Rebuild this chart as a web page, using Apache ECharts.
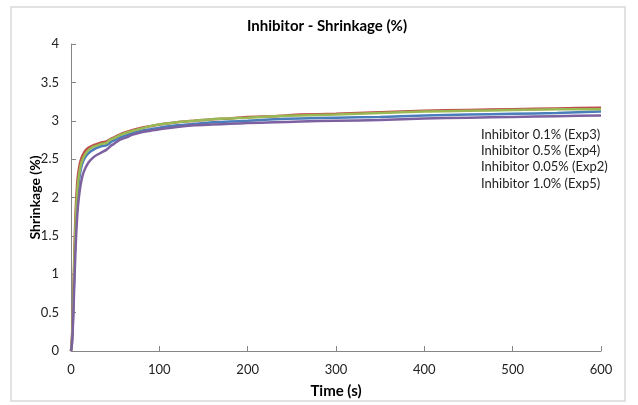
<!DOCTYPE html>
<html><head><meta charset="utf-8">
<script src="https://cdn.jsdelivr.net/npm/echarts@6/dist/echarts.min.js"></script>
<style>html,body{margin:0;padding:0;background:#fff}#c{width:638px;height:405px}</style>
</head><body><div id="c"></div>
<script>
const times = [0,1,2,3,4,5,6,7,8,10,12,14,17,20,25,30,35,40,43,46,50,55,62,70,80,90,100,120,140,160,180,200,230,260,300,350,400,450,500,550,600];
const seriesNames = ["Inhibitor 0.1% (Exp3)","Inhibitor 0.5% (Exp4)","Inhibitor 0.05% (Exp2)","Inhibitor 1.0% (Exp5)"];
const exp3 = [0,0.1,0.35,0.75,1.15,1.5,1.78,1.98,2.12,2.3,2.41,2.48,2.54,2.58,2.62,2.65,2.67,2.68,2.70,2.73,2.75,2.78,2.81,2.84,2.87,2.89,2.91,2.94,2.96,2.98,2.99,3.00,3.02,3.03,3.04,3.05,3.07,3.08,3.09,3.10,3.12];
const exp4 = [0,0.15,0.45,0.9,1.35,1.75,2.0,2.18,2.3,2.44,2.52,2.57,2.62,2.65,2.68,2.70,2.72,2.73,2.75,2.77,2.79,2.82,2.85,2.88,2.91,2.93,2.95,2.98,3.00,3.02,3.03,3.05,3.06,3.08,3.09,3.11,3.13,3.14,3.15,3.16,3.17];
const exp2 = [0,0.12,0.4,0.82,1.25,1.62,1.88,2.07,2.2,2.36,2.46,2.52,2.58,2.62,2.66,2.68,2.70,2.71,2.74,2.76,2.78,2.81,2.84,2.87,2.90,2.93,2.95,2.98,3.00,3.02,3.03,3.04,3.06,3.07,3.08,3.10,3.12,3.13,3.14,3.15,3.15];
const exp5 = [0,0.08,0.28,0.6,0.95,1.28,1.55,1.75,1.9,2.1,2.23,2.32,2.40,2.46,2.52,2.56,2.59,2.62,2.65,2.68,2.71,2.75,2.78,2.82,2.85,2.87,2.89,2.92,2.94,2.95,2.96,2.97,2.98,2.99,3.00,3.01,3.03,3.04,3.05,3.06,3.07];
const allValues = [exp3, exp4, exp2, exp5];
const colors = ["#4A7EBB","#BE4B48","#98B954","#7D60A0"];

const font = "Lato, 'Open Sans', sans-serif";
const chart = echarts.init(document.getElementById('c'));
chart.setOption({
  animation:false,
  backgroundColor:'#fff',
  title:{text:'Inhibitor - Shrinkage (%)',left:322,top:14,textAlign:'center',
    textStyle:{fontFamily:font,fontSize:15,fontWeight:'bold',color:'#000'}},
  graphic:[{type:'rect',shape:{x:11,y:7,width:614,height:394},style:{fill:'none',stroke:'#d9d9d9',lineWidth:1.5},silent:true}],
  legend:{orient:'vertical',left:476,top:123,itemWidth:0,itemHeight:12,itemGap:3.3,icon:'none',
    data:seriesNames,textStyle:{fontFamily:font,fontSize:13,color:'#222',padding:[0,0,0,-5]}},
  grid:{left:71,right:37,top:44,bottom:54},
  xAxis:{type:'value',min:0,max:600,interval:100,name:'Time (s)',nameLocation:'middle',nameGap:33,nameMoveOverlap:false,
    nameTextStyle:{fontFamily:font,fontSize:15,fontWeight:'bold',color:'#000'},
    axisLine:{lineStyle:{color:'#868686'}},axisTick:{inside:true,length:5,lineStyle:{color:'#868686'}},
    axisLabel:{fontFamily:font,fontSize:13,color:'#222',margin:12},splitLine:{show:false}},
  yAxis:{type:'value',min:0,max:4,interval:0.5,name:'Shrinkage (%)',nameLocation:'middle',nameGap:29,nameRotate:90,nameMoveOverlap:false,
    nameTextStyle:{fontFamily:font,fontSize:14,fontWeight:'bold',color:'#000'},
    axisLine:{show:true,lineStyle:{color:'#868686'}},axisTick:{show:true,inside:true,length:5,lineStyle:{color:'#868686'}},
    axisLabel:{fontFamily:font,fontSize:13,color:'#222',margin:12},splitLine:{show:false}},
  series: seriesNames.map((n,i)=>({name:n,type:'line',showSymbol:false,smooth:0.2,
    color:colors[i],lineStyle:{width:2.5,color:colors[i]},
    data: times.map((t,j)=>[t, allValues[i][j]])}))
});
</script></body></html>
